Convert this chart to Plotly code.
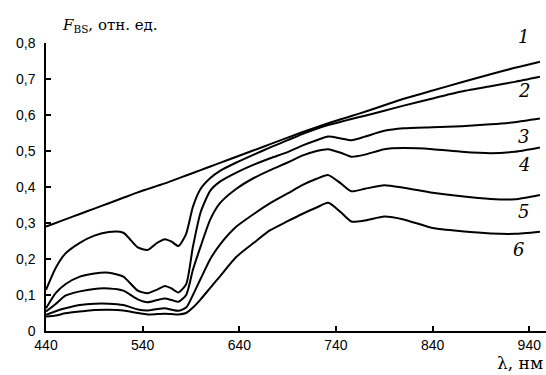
import plotly.graph_objects as go

wavelength = [440, 450, 460, 475, 490, 505, 520, 535, 545, 555, 563, 570, 577, 585, 592, 600,
              610, 620, 637, 655, 672, 690, 705, 720, 732, 745, 756, 770, 790, 810, 840, 870,
              900, 925, 951]

curve1 = [0.29, 0.30, 0.31, 0.325, 0.34, 0.355, 0.37, 0.385, 0.394, 0.403, 0.41, 0.417, 0.424,
          0.432, 0.439, 0.447, 0.457, 0.467, 0.484, 0.502, 0.519, 0.537, 0.552, 0.566, 0.577,
          0.588, 0.597, 0.609, 0.627, 0.645, 0.668, 0.691, 0.713, 0.731, 0.748]
curve2 = [0.114, 0.175, 0.215, 0.245, 0.265, 0.275, 0.273, 0.232, 0.225, 0.245, 0.255, 0.248,
          0.236, 0.27, 0.345, 0.395, 0.425, 0.445, 0.468, 0.49, 0.51, 0.53, 0.547, 0.562, 0.572,
          0.581, 0.589, 0.598, 0.612, 0.626, 0.646, 0.665, 0.68, 0.692, 0.706]
curve3 = [0.063, 0.105, 0.13, 0.151, 0.16, 0.162, 0.151, 0.112, 0.105, 0.115, 0.125, 0.118,
          0.107, 0.13, 0.234, 0.33, 0.39, 0.415, 0.44, 0.462, 0.48, 0.497, 0.515, 0.53, 0.54,
          0.535, 0.53, 0.54, 0.556, 0.563, 0.566, 0.569, 0.574, 0.58, 0.59]
curve4 = [0.054, 0.075, 0.098, 0.11, 0.117, 0.118, 0.112, 0.088, 0.08, 0.086, 0.09, 0.086,
          0.081, 0.1, 0.17, 0.235, 0.31, 0.355, 0.395, 0.425, 0.447, 0.468, 0.487, 0.5, 0.505,
          0.495, 0.484, 0.49, 0.505, 0.508, 0.505, 0.498, 0.494, 0.498, 0.51]
curve5 = [0.045, 0.055, 0.063, 0.072, 0.076, 0.076, 0.072, 0.06, 0.057, 0.061, 0.063, 0.059,
          0.056, 0.065, 0.1, 0.145, 0.2, 0.24, 0.29, 0.325, 0.355, 0.382, 0.405, 0.423, 0.433,
          0.41, 0.388, 0.395, 0.405, 0.398, 0.384, 0.374, 0.367, 0.366, 0.378]
curve6 = [0.04, 0.043, 0.049, 0.054, 0.058, 0.059, 0.057, 0.05, 0.046, 0.047, 0.048, 0.047,
          0.046, 0.05, 0.065, 0.088, 0.12, 0.152, 0.206, 0.245, 0.28, 0.305, 0.325, 0.343, 0.356,
          0.33, 0.304, 0.307, 0.318, 0.31, 0.286, 0.277, 0.271, 0.27, 0.276]

curve_labels = ["1", "2", "3", "4", "5", "6"]

x_tickvals = [440, 540, 640, 740, 840, 940]
x_ticktext = ["440", "540", "640", "740", "840", "940"]
y_tickvals = [0, 0.1, 0.2, 0.3, 0.4, 0.5, 0.6, 0.7, 0.8]
y_ticktext = ["0", "0,1", "0,2", "0,3", "0,4", "0,5", "0,6", "0,7", "0,8"]

series = [curve1, curve2, curve3, curve4, curve5, curve6]

fig = go.Figure()
for ys in series:
    fig.add_trace(go.Scatter(x=wavelength, y=ys, mode="lines",
                             line=dict(color="black", width=2, shape="spline", smoothing=0.6),
                             showlegend=False, hoverinfo="skip"))

# label positions (paper coords)
label_pos = [(0.955, 1.022), (0.955, 0.835), (0.955, 0.675), (0.955, 0.578), (0.955, 0.415), (0.945, 0.283)]
for txt, (px, py) in zip(curve_labels, label_pos):
    fig.add_annotation(x=px, y=py, xref="paper", yref="paper", text="<i>" + txt + "</i>",
                       showarrow=False, xanchor="center", yanchor="middle",
                       font=dict(family="DejaVu Serif", size=18, color="black"))

fig.add_annotation(x=0.128, y=1.06, xref="paper", yref="paper",
                   text="<i>F</i><sub>BS</sub>, отн. ед.", showarrow=False,
                   xanchor="center", yanchor="middle",
                   font=dict(family="DejaVu Serif", size=15, color="black"))
fig.add_annotation(x=0.998, y=-0.11, xref="paper", yref="paper",
                   text="λ, нм", showarrow=False, xanchor="right", yanchor="middle",
                   font=dict(family="DejaVu Serif", size=17, color="black"))

fig.update_layout(
    template="none",
    width=546, height=375,
    margin=dict(l=46, r=0, t=43, b=44, autoexpand=False),
    paper_bgcolor="white", plot_bgcolor="white",
    font=dict(family="Liberation Sans", size=14, color="black"),
    xaxis=dict(range=[440, 957.3], tickvals=x_tickvals, ticktext=x_ticktext, automargin=False,
               ticks="inside", ticklen=5, tickwidth=1.5, tickcolor="black",
               showline=True, linecolor="black", linewidth=1.5, showgrid=False, zeroline=False),
    yaxis=dict(range=[0, 0.8], tickvals=y_tickvals, ticktext=y_ticktext, automargin=False,
               ticks="inside", ticklen=5, tickwidth=1.5, tickcolor="black",
               ticklabelstandoff=6,
               showline=True, linecolor="black", linewidth=1.5, showgrid=False, zeroline=False),
)

fig.write_html("out.html", config={"displayModeBar": False},
               post_script="document.body.style.margin='0px';document.body.style.overflow='hidden';")
